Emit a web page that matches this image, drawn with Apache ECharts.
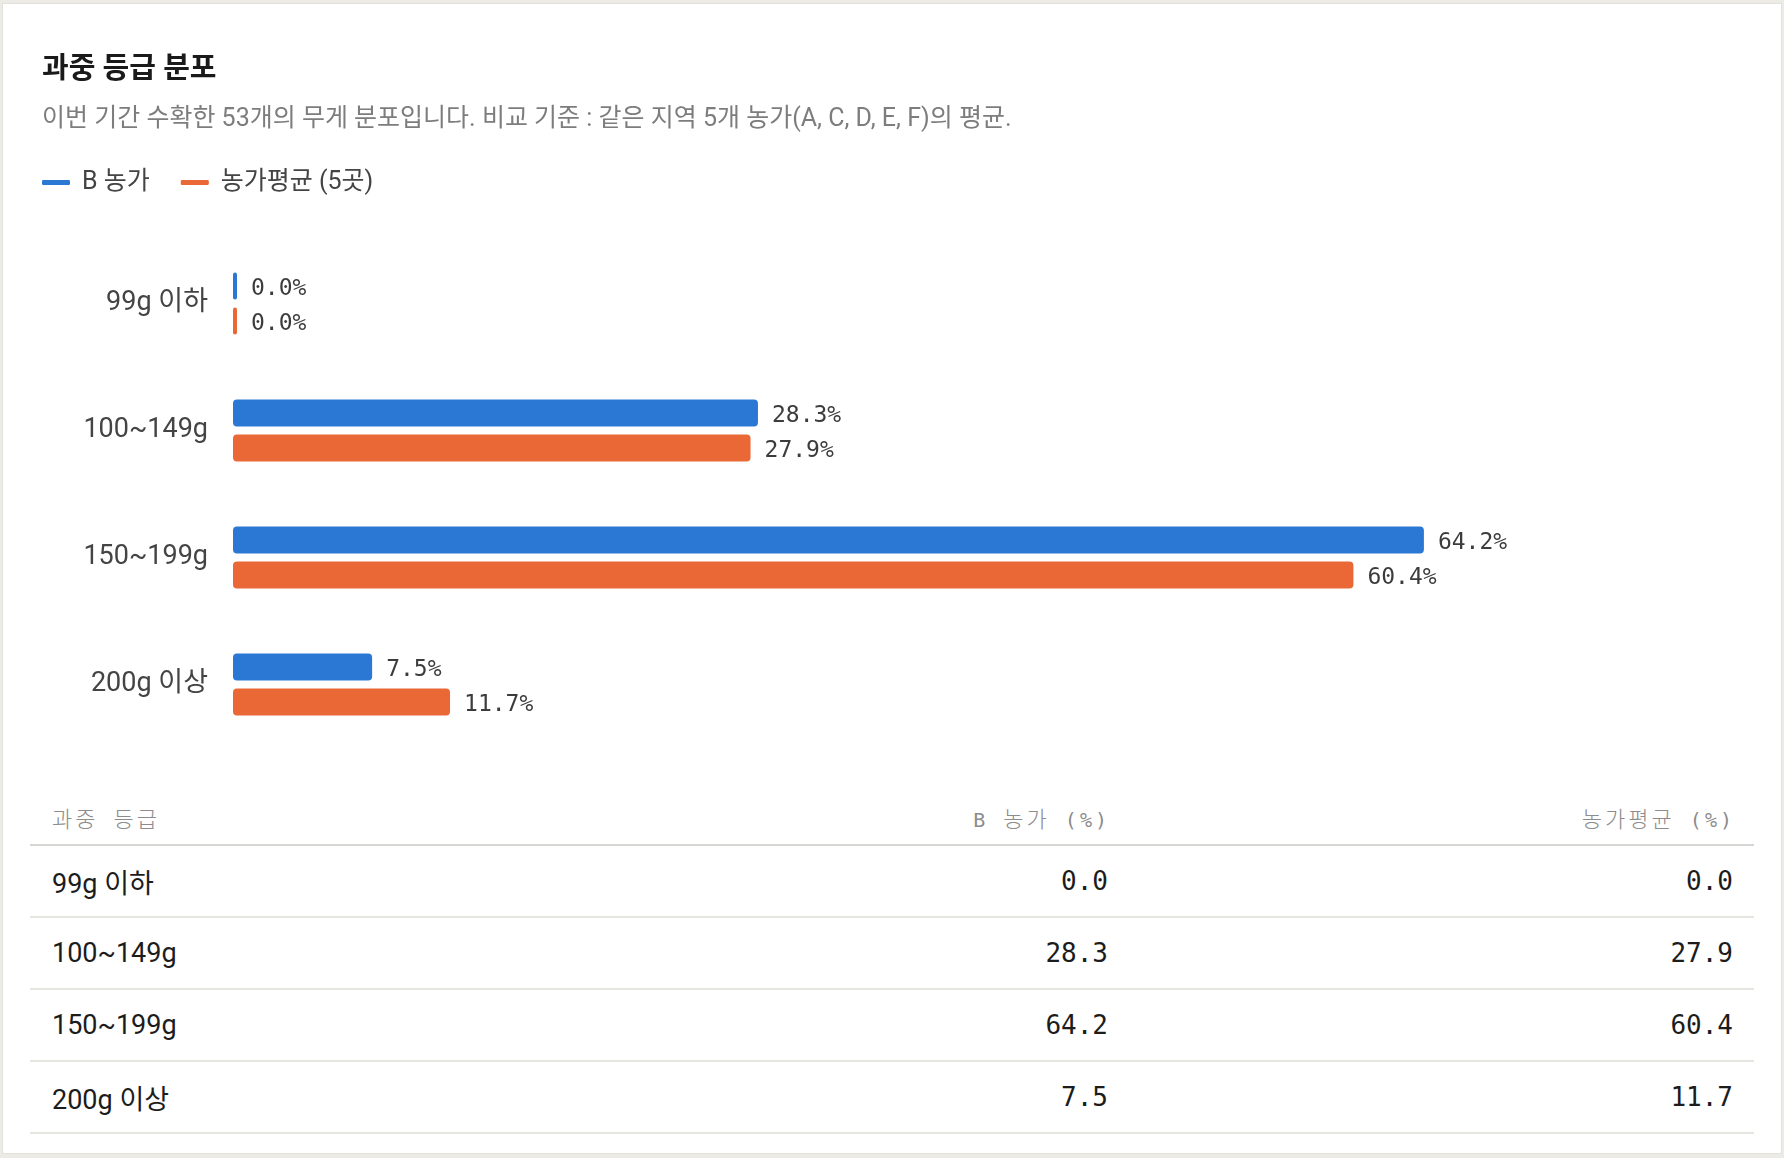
<!DOCTYPE html>
<html lang="ko">
<head>
    <meta charset="UTF-8">
    <title>과중 등급 분포</title>
    <style>
        * {
            margin: 0;
            padding: 0;
            box-sizing: border-box;
        }

        body {
            width: 1784px;
            height: 1158px;
            background: #ecebe6;
            position: relative;
            overflow: hidden;
            font-family: Roboto, 'Noto Sans CJK KR', sans-serif;
        }

        .card {
            position: absolute;
            left: 2px;
            top: 3px;
            width: 1780px;
            height: 1151px;
            background: #fff;
            border: 1px solid #e2e2dd;
        }

        .chart {
            position: absolute;
            left: 0;
            top: 0;
            width: 1784px;
            height: 790px;
        }

        table {
            position: absolute;
            left: 30px;
            top: 790px;
            width: 1724px;
            border-collapse: collapse;
            table-layout: fixed;
        }

        th {
            height: 55px;
            font-family: 'DejaVu Sans Mono', 'Noto Sans CJK KR', monospace;
            font-size: 20px;
            font-weight: normal;
            letter-spacing: 3px;
            color: #8c8c8c;
            border-bottom: 2px solid #d4d7d2;
        }

        /* 머리글 한글은 조금 크게 */
        th .ko {
            font-family: 'Noto Sans CJK KR', sans-serif;
            font-size: 22px;
            font-weight: 300;
        }

        td {
            height: 72px;
            border-bottom: 2px solid #e6e6e1;
            color: #1c1c1c;
        }

        .name {
            text-align: left;
            padding-left: 22px;
            font-size: 27px;
        }

        .num {
            text-align: right;
            padding-right: 21px;
            font-family: 'DejaVu Sans Mono', monospace;
            font-size: 26px;
        }
    </style>
</head>
<body>
<div class="card"></div>
<div class="chart" id="chart"></div>
<table id="table">
    <colgroup>
        <col style="width: 600px">
        <col style="width: 499px">
        <col style="width: 625px">
    </colgroup>
    <thead></thead>
    <tbody></tbody>
</table>

<script src="https://cdn.jsdelivr.net/npm/echarts@6.0.0/dist/echarts.min.js"></script>
<script>
    // 데이터
    const grades = ['99g 이하', '100~149g', '150~199g', '200g 이상']
    const farmB = [0.0, 28.3, 64.2, 7.5]
    const farmAvg = [0.0, 27.9, 60.4, 11.7]
    const seriesNames = ['B 농가', '농가평균 (5곳)']
    const tableHead = ['과중 등급', 'B 농가 (%)', '농가평균 (%)']

    const BLUE = '#2b78d4'
    const ORANGE = '#ea6836'
    const MONO = 'DejaVu Sans Mono'
    const SANS = "Roboto, 'Noto Sans CJK KR', sans-serif"

    const chartEle = document.querySelector('.chart')
    const myChart = echarts.init(chartEle)

    const valueLabel = {
        show: true,
        position: 'right',
        distance: 14,
        offset: [0, 3],
        fontFamily: MONO,
        fontSize: 23,
        color: '#3c3c3c',
        formatter: p => p.value.toFixed(1) + '%'
    }

    const option = {
        animation: false,
        title: [
            {
                text: '과중 등급 분포',
                left: 42,
                top: 56,
                padding: 0,
                textStyle: { fontFamily: SANS, fontSize: 29, fontWeight: 'bold', color: '#1a1a1a' }
            },
            {
                text: '이번 기간 수확한 53개의 무게 분포입니다. 비교 기준 : 같은 지역 5개 농가(A, C, D, E, F)의 평균.',
                left: 42,
                top: 107,
                padding: 0,
                textStyle: { fontFamily: SANS, fontSize: 25, fontWeight: 'normal', color: '#7d7d7d' }
            }
        ],
        legend: {
            left: 42,
            top: 170,
            padding: 0,
            icon: 'roundRect',
            itemWidth: 28,
            itemHeight: 5,
            itemGap: 31,
            textStyle: { fontFamily: SANS, fontSize: 25, color: '#444', padding: [0, 0, 0, 7] },
            data: seriesNames
        },
        grid: {
            left: 233,
            top: 240,
            width: 1484,
            height: 508
        },
        xAxis: {
            type: 'value',
            min: 0,
            max: 80,
            show: false
        },
        yAxis: {
            type: 'category',
            inverse: true,
            data: grades,
            axisLine: { show: false },
            axisTick: { show: false },
            splitLine: { show: false },
            axisLabel: { fontFamily: SANS, fontSize: 27, color: '#444', margin: 25 }
        },
        series: [
            {
                name: seriesNames[0],
                type: 'bar',
                data: farmB,
                barWidth: 27,
                barGap: '30%',
                barMinHeight: 4,
                itemStyle: { color: BLUE, borderRadius: 4 },
                label: valueLabel
            },
            {
                name: seriesNames[1],
                type: 'bar',
                data: farmAvg,
                barWidth: 27,
                barGap: '30%',
                barMinHeight: 4,
                itemStyle: { color: ORANGE, borderRadius: 4 },
                label: valueLabel
            }
        ]
    }

    myChart.setOption(option)

    // 표
    const ko = s => s.replace(/([가-힣]+)/g, '<span class="ko">$1</span>')

    const thead = document.querySelector('#table thead')
    thead.innerHTML = '<tr>' + tableHead.map((h, i) =>
        `<th style="text-align:${i === 0 ? 'left' : 'right'};padding-${i === 0 ? 'left' : 'right'}:${i === 0 ? 22 : 19}px">${ko(h)}</th>`
    ).join('') + '</tr>'

    const tbody = document.querySelector('#table tbody')
    tbody.innerHTML = grades.map((g, i) =>
        `<tr><td class="name">${g}</td><td class="num">${farmB[i].toFixed(1)}</td><td class="num">${farmAvg[i].toFixed(1)}</td></tr>`
    ).join('')
</script>
</body>
</html>
